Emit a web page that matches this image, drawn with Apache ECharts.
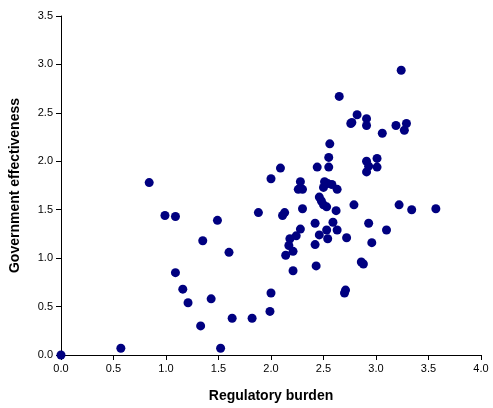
<!DOCTYPE html>
<html>
<head>
<meta charset="utf-8">
<script src="https://cdn.jsdelivr.net/npm/echarts@6/dist/echarts.min.js"></script>
<style>html,body{margin:0;padding:0;background:#fff}#c{width:493px;height:408px}</style>
</head>
<body>
<div id="c"></div>
<script>
const xTitle = "Regulatory burden";
const yTitle = "Government effectiveness";
const regulatoryBurden = [0,0.57,0.84,0.99,1.09,1.49,1.35,1.60,1.09,1.16,1.43,1.21,1.33,1.63,1.52,1.82,1.88,2.11,2.13,2.30,2.42,2.28,2.59,2.53,2.63,2.46,2.54,2.72,2.18,2.24,2.17,2.21,2.14,2.42,2.21,2.43,2.86,2.88,2.93,3.10,2.96,2.79,3.22,3.34,3.57,2.00,1.99,2.71,2.70,2.62,2.46,2.48,2.50,2.53,3.24,2.65,2.82,2.91,2.76,2.77,2.91,3.06,3.19,3.29,3.27,2.56,2.55,2.09,2.00,2.44,2.55,2.91,3.01,2.93,3.01,2.91,2.28,2.26,2.30,2.51,2.54,2.50,2.58,2.63];
const govEffectiveness = [0,0.07,1.78,1.44,1.43,1.39,1.18,1.06,0.85,0.68,0.58,0.54,0.30,0.38,0.07,0.38,1.47,1.44,1.47,1.51,1.36,1.30,1.37,1.29,1.29,1.24,1.20,1.21,1.20,1.23,1.13,1.07,1.03,1.14,0.87,0.92,0.96,0.94,1.36,1.29,1.16,1.55,1.55,1.50,1.51,0.64,0.45,0.67,0.64,1.49,1.63,1.59,1.55,1.53,2.94,2.67,2.48,2.44,2.39,2.40,2.37,2.29,2.37,2.39,2.32,2.18,2.04,1.93,1.82,1.94,1.94,2.00,2.03,1.95,1.94,1.89,1.79,1.71,1.71,1.79,1.77,1.73,1.76,1.71];
const points = regulatoryBurden.map((x, i) => [x, govEffectiveness[i]]);

const chart = echarts.init(document.getElementById('c'), null, {renderer: 'canvas'});
const axisCommon = {
  axisLine: {show: true, onZero: false, lineStyle: {color: '#000', width: 1}},
  axisTick: {show: true, inside: false, length: 5, lineStyle: {color: '#000'}},
  splitLine: {show: false},
  axisLabel: {color: '#000', fontFamily: 'Liberation Sans, Arial, sans-serif', fontSize: 11, formatter: v => v.toFixed(1)},
  nameTextStyle: {color: '#000', fontFamily: 'Liberation Sans, Arial, sans-serif', fontSize: 14, fontWeight: 'bold'}
};
chart.setOption({
  animation: false,
  backgroundColor: '#fff',
  grid: {left: 60, right: 12, top: 16, bottom: 52, containLabel: false},
  xAxis: Object.assign({}, axisCommon, {
    type: 'value', min: 0, max: 4, interval: 0.5,
    name: xTitle, nameLocation: 'middle', nameGap: 34,
    axisLabel: Object.assign({}, axisCommon.axisLabel, {margin: 8})
  }),
  yAxis: Object.assign({}, axisCommon, {
    type: 'value', min: 0, max: 3.5, interval: 0.5,
    name: yTitle, nameLocation: 'middle', nameGap: 39,
    axisLabel: Object.assign({}, axisCommon.axisLabel, {margin: 8})
  }),
  series: [{
    type: 'scatter',
    data: points,
    symbol: 'circle',
    symbolSize: 9,
    itemStyle: {color: '#000080', opacity: 1},
    clip: false
  }]
});
</script>
</body>
</html>
